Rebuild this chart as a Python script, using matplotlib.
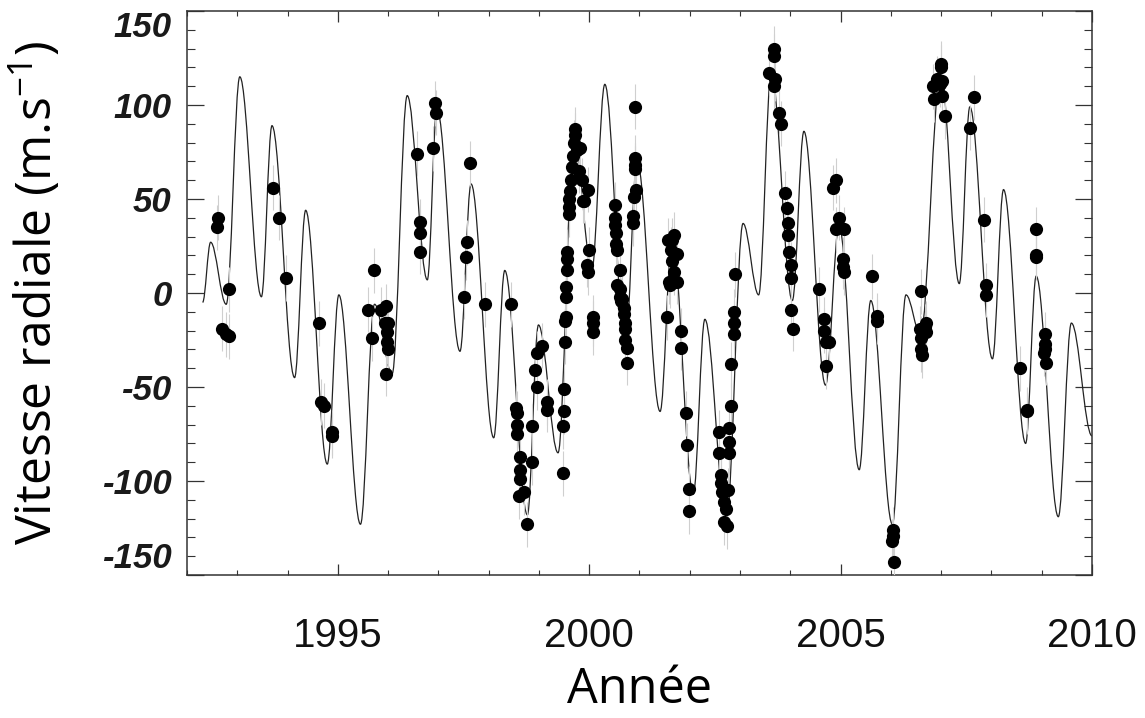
# radial velocity curve with observations (Annee vs vitesse radiale)

import matplotlib as mpl
mpl.use("Agg")
import matplotlib.pyplot as plt
from matplotlib.path import Path
from matplotlib.patches import PathPatch
from matplotlib.ticker import MultipleLocator

# observed radial velocities (year, m/s)
obs_year = [
    1992.61, 1992.59, 1992.83, 1992.70, 1992.77, 1992.84,
    1993.71, 1993.83, 1993.97,
    1994.63, 1994.67, 1994.73, 1994.88, 1994.88,
    1995.71, 1995.60, 1995.67, 1995.85, 1995.95, 1995.93, 1996.00, 1995.97,
    1995.98, 1996.00, 1995.96,
    1996.57, 1996.64, 1996.64, 1996.64, 1996.94, 1996.96, 1996.90,
    1997.62, 1997.56, 1997.54, 1997.50, 1997.92,
    1998.44, 1998.54, 1998.57, 1998.57, 1998.57, 1998.62, 1998.62, 1998.62,
    1998.61, 1998.70, 1998.77, 1998.86, 1998.86, 1998.97, 1999.06, 1998.93,
    1998.97, 1999.16, 1999.16,
    1999.47, 1999.49, 1999.49, 1999.47, 1999.52, 1999.52, 1999.53, 1999.54,
    1999.54, 1999.56, 1999.56, 1999.56, 1999.59, 1999.59, 1999.60, 1999.61,
    1999.64, 1999.66, 1999.68, 1999.69, 1999.72, 1999.72, 1999.76, 1999.82,
    1999.79, 1999.86, 1999.89, 1999.97, 1999.99, 1999.96, 1999.97, 1999.87,
    2000.07, 2000.07, 2000.07,
    2000.92, 2000.91, 2000.91, 2000.92, 2000.94, 2000.89, 2000.88, 2000.88,
    2000.52, 2000.52, 2000.52, 2000.53, 2000.54, 2000.56, 2000.62, 2000.62,
    2000.66, 2000.64, 2000.70, 2000.70, 2000.72, 2000.72, 2000.72, 2000.76,
    2000.76, 2000.56, 2000.62,
    2001.68, 2001.65, 2001.57, 2001.63, 2001.75, 2001.65, 2001.68, 2001.58,
    2001.61, 2001.75, 2001.55, 2001.83, 2001.83, 2001.93, 2001.95, 2001.99,
    2001.99,
    2002.58, 2002.58, 2002.63, 2002.63, 2002.65, 2002.68, 2002.73, 2002.68,
    2002.75, 2002.77, 2002.79, 2002.79, 2002.79, 2002.81, 2002.81, 2002.87,
    2002.87, 2002.87, 2002.90,
    2003.68, 2003.68, 2003.58, 2003.70, 2003.68, 2003.78, 2003.81, 2003.90,
    2003.93, 2003.96, 2003.96, 2003.97, 2004.01, 2004.01, 2004.01, 2004.05,
    2004.58, 2004.66, 2004.66, 2004.71, 2004.76, 2004.70, 2004.85, 2004.91,
    2004.97, 2004.90, 2005.06, 2005.05, 2005.05, 2005.06,
    2005.62, 2005.72, 2005.72,
    2006.04, 2006.04, 2006.02, 2006.06,
    2006.60, 2006.57, 2006.59, 2006.67, 2006.70, 2006.70, 2006.59, 2006.62,
    2006.99, 2006.99, 2006.92, 2007.02, 2006.84, 2006.97, 2006.85, 2007.02,
    2007.08,
    2007.65, 2007.57, 2007.86, 2007.90, 2007.90,
    2008.57, 2008.70, 2008.70, 2008.88, 2008.88, 2008.89,
    2009.06, 2009.06, 2009.07, 2009.04, 2009.09,
]
obs_rv = [
    40, 35, 2, -19, -22, -23,
    56, 40, 8,
    -16, -58, -60, -74, -76,
    12, -9, -24, -9, -7, -16, -16, -21,
    -26, -30, -43,
    74, 38, 32, 22, 101, 96, 77,
    69, 27, 19, -2, -6,
    -6, -61, -64, -70, -75, -87, -94, -99,
    -108, -106, -123, -71, -90, -32, -28, -41,
    -50, -58, -62,
    -96, -51, -63, -71, -26, -15, -13, -2,
    3, 12, 18, 22, 42, 46, 50, 54,
    60, 67, 73, 80, 84, 87, 76, 77,
    65, 60, 49, 55, 23, 15, 11, 49,
    -13, -16, -21,
    99, 72, 68, 66, 55, 51, 41, 37,
    47, 40, 36, 32, 26, 23, 12, 2,
    -3, -4, -8, -11, -16, -19, -25, -29,
    -37, 4, -2,
    31, 28, 28, 23, 21, 17, 11, 6,
    4, 6, -13, -20, -29, -64, -81, -104,
    -116,
    -74, -85, -97, -101, -106, -111, -115, -122,
    -124, -105, -85, -79, -72, -60, -38, -22,
    -16, -10, 10,
    130, 126, 117, 114, 110, 96, 90, 53,
    45, 37, 31, 22, 15, 8, -9, -19,
    2, -14, -20, -26, -26, -39, 56, 60,
    40, 34, 34, 18, 14, 11,
    9, -12, -15,
    -126, -129, -132, -143,
    1, -19, -24, -18, -16, -21, -30, -33,
    122, 120, 114, 113, 110, 111, 103, 105,
    94,
    104, 88, 39, 4, -1,
    -40, -62, -63, 34, 19, 20,
    -22, -27, -30, -32, -37,
]
obs_err = 12  # m/s, typical error bar

# model curve: turning points
curve_year = [
    1992.31, 1992.47, 1992.78, 1993.05, 1993.48, 1993.69, 1994.14, 1994.36,
    1994.79, 1995.02, 1995.45, 1995.73, 1996.08, 1996.38, 1996.78, 1996.97,
    1997.43, 1997.65, 1998.10, 1998.32, 1998.77, 1998.99, 1999.38, 1999.70,
    2000.05, 2000.31, 2000.72, 2000.95, 2001.41, 2001.65, 2002.07, 2002.30,
    2002.73, 2003.06, 2003.37, 2003.62, 2004.04, 2004.27, 2004.70, 2004.97,
    2005.37, 2005.60, 2006.03, 2006.30, 2006.59, 2006.99, 2007.36, 2007.57,
    2008.02, 2008.24, 2008.68, 2008.89, 2009.33, 2009.59, 2010.00,
]
curve_rv = [
    -5, 27, -6, 115, -2, 89, -45, 44,
    -91, -1, -123, -6, -43, 105, 7, 98,
    -31, 58, -77, 12, -118, -17, -85, 84,
    12, 111, -28, 70, -63, 29, -107, -14,
    -120, 37, -1, 117, -4, 86, -49, 36,
    -94, -4, -123, -1, -22, 118, 5, 99,
    -35, 55, -80, 9, -119, -16, -76,
]

yticks = [-150, -100, -50, 0, 50, 100, 150]
xticks = [1995, 2000, 2005, 2010]

fig = plt.figure(figsize=(11.45, 7.18), dpi=100)
ax = fig.add_axes([187 / 1145, 1 - 575 / 718, 905 / 1145, 564 / 718])

# smooth curve through the turning points (flat tangents at each one)
k = 0.36
verts = [(curve_year[0], curve_rv[0])]
codes = [Path.MOVETO]
for i in range(1, len(curve_year)):
    t0, v0 = curve_year[i - 1], curve_rv[i - 1]
    t1, v1 = curve_year[i], curve_rv[i]
    dt = t1 - t0
    verts += [(t0 + k * dt, v0), (t1 - k * dt, v1), (t1, v1)]
    codes += [Path.CURVE4] * 3
ax.add_patch(PathPatch(Path(verts, codes), fill=False, lw=0.9,
                       ec="#222222", zorder=2))

ax.errorbar(obs_year, obs_rv, yerr=obs_err, fmt="none", ecolor="#cfcfcf",
            elinewidth=0.8, capsize=0, zorder=3)
ax.plot(obs_year, obs_rv, "o", color="black", ms=9.5, mec="black",
        mew=0, zorder=4)

ax.set_xlim(1992, 2010)
ax.set_ylim(-150, 150)

ax.set_xticks(xticks)
ax.set_xticklabels([str(x) for x in xticks])
ax.xaxis.set_minor_locator(MultipleLocator(1))
ax.set_yticks(yticks)
ax.yaxis.set_minor_locator(MultipleLocator(10))

for s in ax.spines.values():
    s.set_linewidth(1.1)
    s.set_color("#333333")

ax.tick_params(axis="x", which="major", direction="in", length=8, width=0.9,
               top=True, pad=30, labelsize=29, colors="#333333",
               labelcolor="#111111")
ax.tick_params(axis="x", which="minor", direction="in", length=3.8, width=0.8,
               top=True, colors="#333333")
ax.tick_params(axis="y", which="major", direction="in", length=12, width=0.9,
               right=True, pad=11, colors="#333333", labelcolor="#1a1a1a")
ax.tick_params(axis="y", which="minor", direction="in", length=6, width=0.8,
               right=True, colors="#333333")

for lab in ax.get_xticklabels():
    lab.set_fontfamily("Liberation Sans")

ylabs = ax.set_yticklabels([str(y) for y in yticks])
for lab in ylabs:
    lab.set_fontfamily("Liberation Sans")
    lab.set_fontsize(25)
    lab.set_fontweight("bold")
    lab.set_fontstyle("italic")
# end labels pushed inside the frame
ylabs[0].set_va("bottom")
ylabs[-1].set_va("top")

ax.set_xlabel("Année", fontsize=35, family="Open Sans")
ax.xaxis.set_label_coords(0.5, -0.16)
ax.set_ylabel("Vitesse radiale (m.s$^{\\mathregular{-1}}$)", fontsize=36,
              family="Open Sans")
ax.yaxis.set_label_coords(-0.135, 0.5)

plt.savefig("out.png", dpi=100)
